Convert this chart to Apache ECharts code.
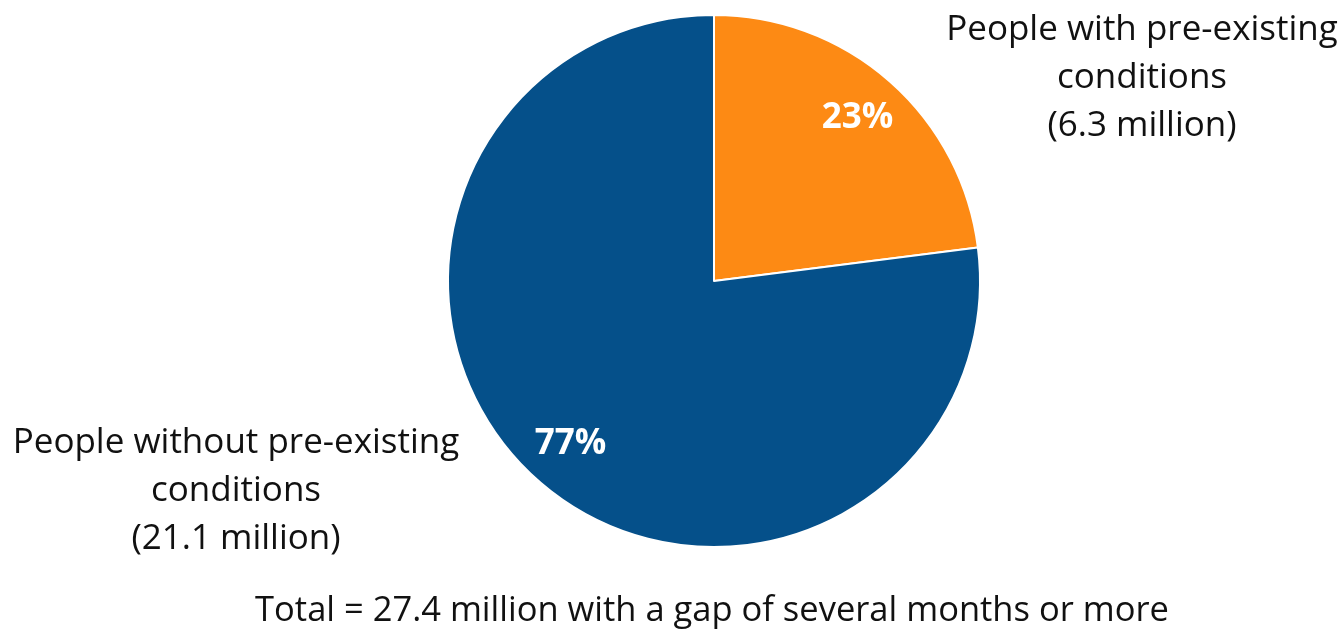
<!DOCTYPE html>
<html>
<head>
<meta charset="utf-8">
<script src="https://cdn.jsdelivr.net/npm/echarts@6/dist/echarts.min.js"></script>
<style>
html,body{margin:0;padding:0;background:#fff;}
#chart{width:1343px;height:635px;}
</style>
</head>
<body>
<div id="chart"></div>
<script>
const categories = ['People with pre-existing\nconditions', 'People without pre-existing\nconditions'];
const valuesMillions = [6.3, 21.1];
const percentLabels = ['23%', '77%'];
const sliceColors = ['#FD8A14', '#05508A'];
const totalLabel = 'Total = 27.4 million with a gap of several months or more';

const FONT = '"Open Sans"';
const chart = echarts.init(document.getElementById('chart'), null, {renderer: 'canvas'});

const pieData = categories.map((c, i) => ({
  name: c, value: valuesMillions[i],
  itemStyle: {color: sliceColors[i]}
}));
const labelData = categories.map((c, i) => ({
  name: c, value: valuesMillions[i],
  label: {formatter: percentLabels[i]}
}));

const outerText = (i) => categories[i] + '\n(' + valuesMillions[i] + ' million)';

chart.setOption({
  animation: false,
  backgroundColor: '#fff',
  series: [
    {
      type: 'pie',
      center: [714, 281],
      radius: [0, 266],
      startAngle: 90,
      clockwise: true,
      silent: true,
      label: {show: false},
      labelLine: {show: false},
      itemStyle: {borderColor: '#fff', borderWidth: 2},
      data: pieData
    },
    {
      type: 'pie',
      center: [714, 281],
      radius: [162, 266],
      startAngle: 90,
      clockwise: true,
      silent: true,
      itemStyle: {color: 'rgba(0,0,0,0)'},
      label: {show: true, position: 'inside', color: '#fff', fontFamily: 'Open Sans', fontWeight: 'bold', fontSize: 35},
      labelLine: {show: false},
      data: labelData
    }
  ],
  graphic: [
    {type: 'text', x: 1142, y: 78, style: {text: outerText(0), font: '35px ' + FONT, fill: '#111', align: 'center', verticalAlign: 'middle', lineHeight: 48}},
    {type: 'text', x: 236, y: 491, style: {text: outerText(1), font: '35px ' + FONT, fill: '#111', align: 'center', verticalAlign: 'middle', lineHeight: 48}},
    {type: 'text', x: 712, y: 611, style: {text: totalLabel, font: '34.5px ' + FONT, fill: '#111', align: 'center', verticalAlign: 'middle'}}
  ]
});
</script>
</body>
</html>
